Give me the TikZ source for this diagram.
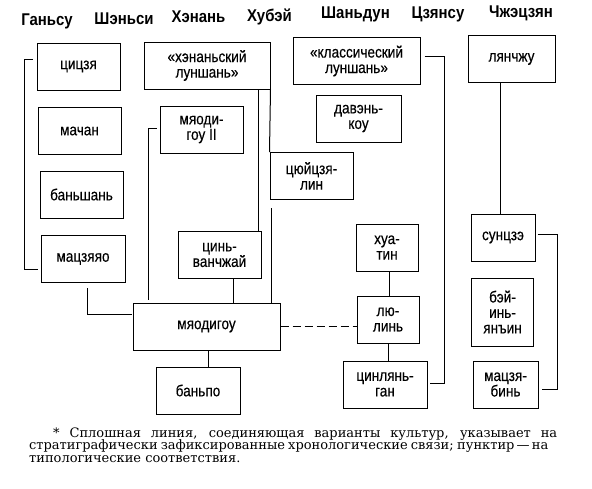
\documentclass[tikz,border=0pt]{standalone}
\usepackage{fontspec}
\setmainfont{Liberation Sans}[FakeStretch=0.85, FakeBold=0.3]
\newfontfamily\headfont{Liberation Sans}[FakeStretch=0.88]
\newfontfamily\notefont{DejaVu Serif}

\begin{document}
\begin{tikzpicture}[x=1pt, y=-1pt,
    head/.style={font=\headfont\fontsize{17}{17}\selectfont\bfseries, anchor=base, inner sep=0pt},
    box/.style={draw, line width=1pt, align=center, inner sep=0pt, minimum height=47pt, font=\fontsize{16}{15.5}\selectfont},
    link/.style={line width=1pt},
    typo/.style={line width=1pt, dash pattern=on 8pt off 4pt},
    note/.style={font=\notefont\fontsize{13}{13}\selectfont, anchor=base west, inner sep=0pt}
]
    \useasboundingbox (0,0) rectangle (592,488);

    % provinces
    \node[head] (gansu) at (47,25) {Ганьсу};
    \node[head] (shensi) at (124,24) {Шэньси};
    \node[head] (henan) at (198.5,22) {Хэнань};
    \node[head] (hubei) at (269.5,21) {Хубэй};
    \node[head] (shandun) at (355.5,18) {Шаньдун};
    \node[head] (czyansu) at (438,18) {Цзянсу};
    \node[head] (chzh) at (521,17) {Чжэцзян};

    % cultures
    \node[box, minimum width=83pt] (cic) at (78.5,66.5) {цицзя};
    \node[box, minimum width=83pt] (mach) at (79.5,131) {мачан};
    \node[box, minimum width=83pt] (bansh) at (81.5,194.5) {баньшань};
    \node[box, minimum width=84pt] (mczy) at (83,259) {мацзяяо};
    \node[box, minimum width=126pt] (hlsh) at (207,65.5) {«хэнаньский\\луншань»};
    \node[box, minimum width=83pt] (mdg2) at (201.5,129.5) {мяоди-\\гоу II};
    \node[box, minimum width=83pt] (cuj) at (311.5,176) {цюйцзя-\\лин};
    \node[box, minimum width=83pt] (cinv) at (219.5,255) {цинь-\\ванчжай};
    \node[box, minimum width=147pt] (mdg) at (206.5,326.5) {мяодигоу};
    \node[box, minimum width=84pt] (banpo) at (198,390.5) {баньпо};
    \node[box, minimum width=127pt] (klsh) at (356.5,61) {«классический\\луншань»};
    \node[box, minimum width=85pt] (daven) at (358.5,118.5) {давэнь-\\коу};
    \node[box, minimum width=62pt] (huat) at (387,247.5) {хуа-\\тин};
    \node[box, minimum width=62pt] (liul) at (388,319.5) {лю-\\линь};
    \node[box, minimum width=84pt] (cilg) at (385,384.5) {цинлянь-\\ган};
    \node[box, minimum width=87pt] (lyan) at (511.5,59) {лянчжу};
    \node[box, minimum width=64pt] (sunc) at (503,237.5) {сунцзэ};
    \node[box, minimum width=62pt, minimum height=68pt] (beyin) at (502.5,312) {бэй-\\инь-\\янъин};
    \node[box, minimum width=65pt] (mczb) at (505.5,384.5) {мацзя-\\бинь};

    % chronological links
    \draw[link] ([shift={(-4,-7.5)}]cic.west) -- ++(-8,0) |- ([shift={(-3,10)}]mczy.west);
    \draw[link] ([shift={(4,5)}]mczy.south) |- ([shift={(-1,-12.5)}]mdg.west);
    \draw[link] ([shift={(-3,-1.5)}]mdg2.west) -| ([shift={(16,-3)}]mdg.north west);
    \draw[link] ([xshift=-12pt]hlsh.south east) -- ([xshift=-12pt]hlsh.south east |- cinv.north);
    \draw[link] (hlsh.south east) -- (cuj.north west);
    \draw[link] ([shift={(2,8)}]cuj.south west) -- ([xshift=2pt]cuj.south west |- mdg.north);
    \draw[link] ([xshift=14pt]cinv.south) -- ([xshift=14pt]cinv.south |- mdg.north);
    \draw[link] ([xshift=1.5pt]mdg.south) -- ([xshift=1.5pt]mdg.south |- banpo.north);
    \draw[link] ([shift={(4,-5)}]klsh.east) -| ([shift={(17,-1.5)}]cilg.east) -- ([shift={(2,-1.5)}]cilg.east);
    \draw[link] ([xshift=2pt]huat.south) -- ([xshift=2pt]huat.south |- liul.north);
    \draw[link] (liul.south) -- (liul.south |- cilg.north);
    \draw[link] ([xshift=-11.5pt]lyan.south) -- ([xshift=-11.5pt]lyan.south |- sunc.north);
    \draw[link] ([shift={(2,-3.5)}]sunc.east) -- ++(20,0) |- ([shift={(3,4.5)}]mczb.east);

    % typological link
    \draw[typo] (mdg.east) -- (mdg.east -| liul.west);

    % footnote
    \node[note] (n1) at (53,437) {\makebox[504pt][s]{* Сплошная линия, соединяющая варианты культур, указывает на}};
    \node[note] (n2) at (29,449.5) {\makebox[519pt][s]{стратиграфически зафиксированные хронологические связи; пунктир\,—\,на}};
    \node[note] (n3) at (29,462) {типологические соответствия.};
\end{tikzpicture}
\end{document}
